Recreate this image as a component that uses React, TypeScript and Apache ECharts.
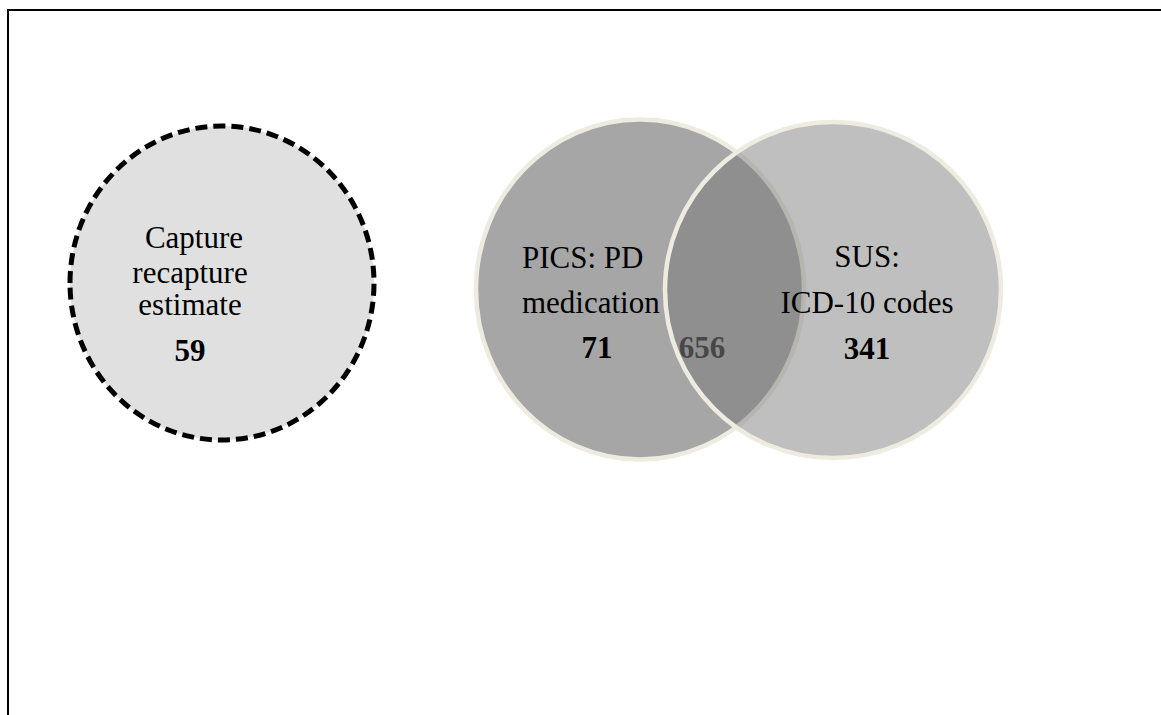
import React, { useEffect, useRef } from "react";
import * as echarts from "echarts";

// ---- data ----
const setNames = ["Capture recapture estimate", "PICS: PD medication", "SUS: ICD-10 codes"];
const labelLines = [
  ["Capture", "recapture", "estimate"],
  ["PICS: PD", "medication"],
  ["SUS:", "ICD-10 codes"],
];
const exclusiveCounts = [59, 71, 341];
const overlapCount = 656;

// ---- layout (pixel space of the hidden axes) ----
const circleLayout = [
  { cx: 222, cy: 283, rx: 152, ry: 157 },
  { cx: 640, cy: 289.5, rx: 164, ry: 170 },
  { cx: 833, cy: 290, rx: 168, ry: 168 },
];
const labelLayout = [
  { align: "center", xs: [194, 190, 190], ys: [237, 272, 304], nx: 190, ny: 350 },
  { align: "left", xs: [522, 522], ys: [257, 302], nx: 597, ny: 347 },
  { align: "center", xs: [867, 867], ys: [256, 302], nx: 867, ny: 348 },
];
const overlapLayout = { x: 702, y: 347 };

const W = 1161;
const H = 715;
const FONT = '"Liberation Serif", "Times New Roman", serif';

export default function App() {
  const ref = useRef<HTMLDivElement>(null);
  useEffect(() => {
    document.body.style.margin = "0";
    const chart = echarts.init(ref.current!, null, { renderer: "svg" });
    const text = (t: string, x: number, y: number, align: string, bold: boolean, fill = "#000") => ({
      type: "text",
      x,
      y,
      style: {
        text: t,
        fill,
        font: `${bold ? "bold " : ""}31px ${FONT}`,
        align,
        verticalAlign: "middle",
      },
    });
    const option: any = {
      animation: false,
      backgroundColor: "#fff",
      grid: { left: 0, right: 0, top: 0, bottom: 0 },
      xAxis: { type: "value", min: 0, max: W, show: false },
      yAxis: { type: "value", min: 0, max: H, inverse: true, show: false },
      graphic: [
        {
          type: "rect",
          shape: { x: 8, y: 10, width: 1300, height: 900 },
          style: { fill: "none", stroke: "#000", lineWidth: 2 },
          silent: true,
          z: 0,
        },
      ],
      series: [
        {
          type: "custom",
          coordinateSystem: "cartesian2d",
          data: setNames.map((n, i) => ({ name: n, value: [circleLayout[i].cx, circleLayout[i].cy, i] })),
          renderItem: (params: any, api: any) => {
            const i = params.dataIndex;
            const L = circleLayout[i];
            const c = api.coord([L.cx, L.cy]);
            const s = api.size([L.rx, L.ry]);
            let style: any;
            if (i === 0) {
              style = { fill: "#e0e0e0", stroke: "#000", lineWidth: 5, lineDash: [12, 6] };
            } else if (i === 1) {
              style = { fill: "#a6a6a6", stroke: "#eeece1", lineWidth: 4.5 };
            } else {
              style = { fill: "rgba(116,116,116,0.46)", stroke: "#eeece1", lineWidth: 4.5 };
            }
            const children: any[] = [
              { type: "ellipse", shape: { cx: c[0], cy: c[1], rx: s[0], ry: s[1] }, style },
            ];
            const LL = labelLayout[i];
            labelLines[i].forEach((t, k) => {
              const p = api.coord([LL.xs[k], LL.ys[k]]);
              children.push(text(t, p[0], p[1], LL.align, false));
            });
            const np = api.coord([LL.nx, LL.ny]);
            children.push(text(String(exclusiveCounts[i]), np[0], np[1], "center", true));
            if (i === 1) {
              const op = api.coord([overlapLayout.x, overlapLayout.y]);
              children.push(text(String(overlapCount), op[0], op[1], "center", true, "#222"));
            }
            return { type: "group", children };
          },
        },
      ],
    };
    chart.setOption(option);
    return () => chart.dispose();
  }, []);
  return <div ref={ref} style={{ width: W, height: H }} />;
}
